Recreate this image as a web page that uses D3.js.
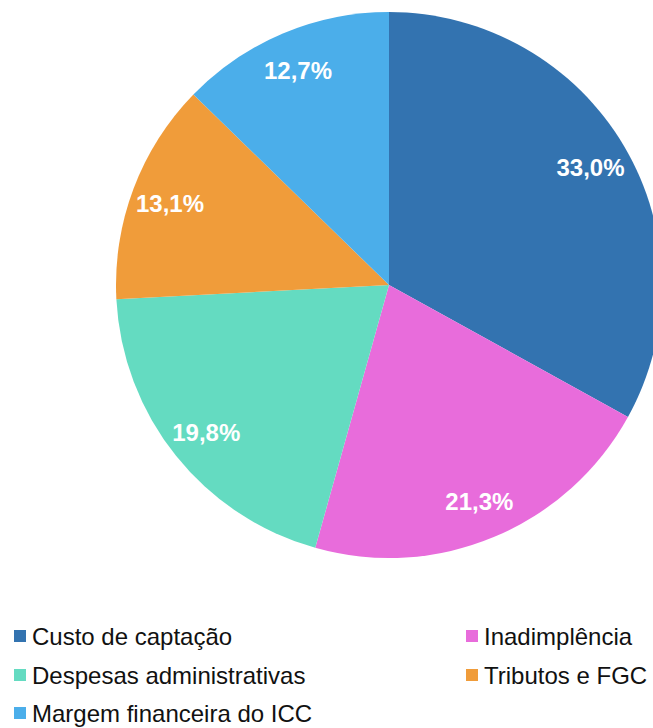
<!DOCTYPE html>
<html>
<head>
<meta charset="utf-8">
<script src="https://cdn.jsdelivr.net/npm/d3@7"></script>
<style>
  body { margin: 0; background: #fff; }
  svg { display: block; }
</style>
</head>
<body>
<div class="chart"></div>
<script>
// dados do gráfico
var categorias = ["Custo de captação", "Inadimplência", "Despesas administrativas", "Tributos e FGC", "Margem financeira do ICC"];
var valores = [33.0, 21.3, 19.8, 13.1, 12.7];
var rotulos = ["33,0%", "21,3%", "19,8%", "13,1%", "12,7%"];
var cores = ["#3373b0", "#e86cdb", "#64dbc1", "#f09c3a", "#4baeea"];

var w = 653, h = 728;
var cx = 389, cy = 285, r = 273;

var svg = d3.select(".chart")
  .append("svg")
  .attr("width", w)
  .attr("height", h);

var pie = d3.pie().sort(null).value(function(d) { return d; });
var arcs = pie(valores);

var arc = d3.arc().innerRadius(0).outerRadius(r);
var labelArc = d3.arc().innerRadius(234).outerRadius(234);

var g = svg.append("g").attr("transform", "translate(" + cx + "," + cy + ")");

g.selectAll("path")
  .data(arcs)
  .enter()
  .append("path")
  .attr("d", arc)
  .attr("fill", function(d, i) { return cores[i]; });

g.selectAll("text")
  .data(arcs)
  .enter()
  .append("text")
  .attr("transform", function(d) { return "translate(" + labelArc.centroid(d) + ")"; })
  .attr("text-anchor", "middle")
  .attr("dy", "0.4em")
  .attr("fill", "#fff")
  .style("font-family", "'Liberation Sans', Arial, sans-serif")
  .style("font-size", "24px")
  .style("font-weight", "bold")
  .text(function(d, i) { return rotulos[i]; });

// legenda em duas colunas
var colX = [14, 466];
var linhaY = [636, 675, 713];
var legenda = svg.selectAll(".leg")
  .data(categorias)
  .enter()
  .append("g")
  .attr("class", "leg")
  .attr("transform", function(d, i) {
    return "translate(" + colX[i % 2] + "," + linhaY[Math.floor(i / 2)] + ")";
  });

legenda.append("rect")
  .attr("x", 0)
  .attr("y", -6)
  .attr("width", 12)
  .attr("height", 12)
  .attr("fill", function(d, i) { return cores[i]; });

legenda.append("text")
  .attr("x", 18)
  .attr("dy", "0.36em")
  .attr("fill", "#111")
  .style("font-family", "'Liberation Sans', Arial, sans-serif")
  .style("font-size", "24px")
  .text(function(d) { return d; });
</script>
</body>
</html>
